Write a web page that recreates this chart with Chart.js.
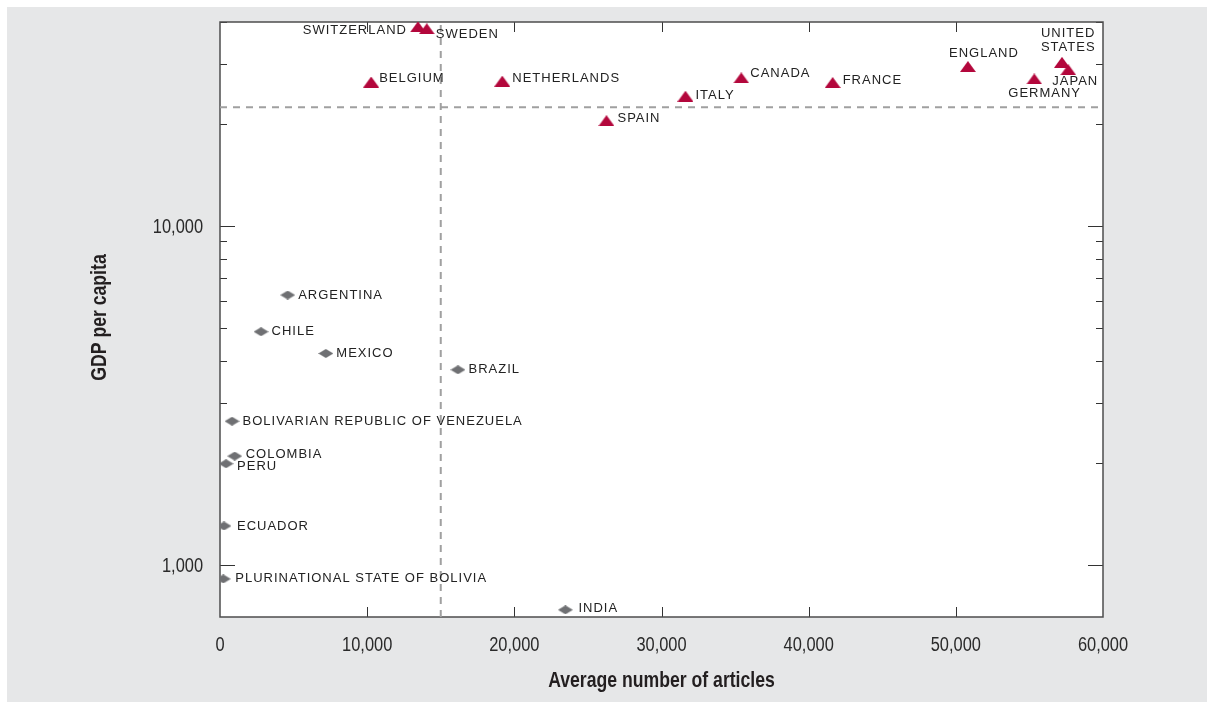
<!DOCTYPE html>
<html>
<head>
<meta charset="utf-8">
<script src="https://cdn.jsdelivr.net/npm/chart.js@4.4.0/dist/chart.umd.min.js"></script>
<style>
  html, body { margin: 0; padding: 0; background: #fff; }
  #panel { position: absolute; left: 7px; top: 7px; width: 1200px; height: 695px; background: #e6e7e8; }
  canvas { display: block; }
</style>
</head>
<body>
<div id="panel"><canvas id="myChart" width="1200" height="695"></canvas></div>
<script>
// high income group (triangles)
const highNames = ['SWITZERLAND', 'SWEDEN', 'BELGIUM', 'NETHERLANDS', 'SPAIN', 'ITALY', 'CANADA', 'FRANCE', 'ENGLAND', 'GERMANY', 'UNITED STATES', 'JAPAN'];
const highArticles = [13450, 14050, 10270, 19180, 26260, 31630, 35420, 41630, 50820, 55330, 57210, 57640];
const highGdp = [38700, 38200, 26600, 26750, 20450, 24150, 27350, 26500, 29550, 27150, 30400, 28900];

// latin america + india (diamonds)
const lowNames = ['ARGENTINA', 'CHILE', 'MEXICO', 'BRAZIL', 'BOLIVARIAN REPUBLIC OF VENEZUELA', 'COLOMBIA', 'PERU', 'ECUADOR', 'PLURINATIONAL STATE OF BOLIVIA', 'INDIA'];
const lowArticles = [4600, 2790, 7190, 16170, 816, 1000, 410, 270, 225, 23470];
const lowGdp = [6250, 4870, 4200, 3760, 2650, 2090, 1985, 1300, 907, 735];

const xTicks = [0, 10000, 20000, 30000, 40000, 50000, 60000];
const yTicks = [1000, 10000];
const yMarks = [1000, 2000, 3000, 4000, 5000, 6000, 7000, 8000, 9000, 10000, 20000, 30000, 40000];
const articleCut = 15000;
const gdpCut = 22400;
const xTitle = 'Average number of articles';
const yTitle = 'GDP per capita';

// where each label sits relative to its marker
const place = {
  'SWITZERLAND': {dx: -11, dy: 4, align: 'right'},
  'SWEDEN': {dx: 9, dy: 6},
  'BELGIUM': {dx: 8, dy: -4},
  'NETHERLANDS': {dx: 10, dy: -3},
  'SPAIN': {dx: 11, dy: -2},
  'ITALY': {dx: 10, dy: -1},
  'CANADA': {dx: 9, dy: -4},
  'FRANCE': {dx: 10, dy: -2},
  'ENGLAND': {dx: 16, dy: -13, align: 'center'},
  'GERMANY': {dx: -26, dy: 14},
  'UNITED STATES': {dx: -21, dy: -29, lines: ['UNITED', 'STATES']},
  'JAPAN': {dx: -16, dy: 12},
  'COLOMBIA': {dx: 11, dy: -2},
  'PERU': {dx: 11, dy: 3},
  'ECUADOR': {dx: 13, dy: 0},
  'PLURINATIONAL STATE OF BOLIVIA': {dx: 12, dy: 0},
  'INDIA': {dx: 13, dy: -1}
};

function makeTriangle() {
  const c = document.createElement('canvas');
  c.width = 16; c.height = 11;
  const g = c.getContext('2d');
  g.fillStyle = '#b3073c';
  g.beginPath(); g.moveTo(0, 11); g.lineTo(8, 0); g.lineTo(16, 11); g.closePath(); g.fill();
  return c;
}
function makeDiamond() {
  const c = document.createElement('canvas');
  c.width = 15; c.height = 9;
  const g = c.getContext('2d');
  g.fillStyle = '#6f7073';
  g.beginPath(); g.moveTo(0, 4.5); g.lineTo(7.5, 0); g.lineTo(15, 4.5); g.lineTo(7.5, 9); g.closePath(); g.fill();
  return c;
}

// condensed look: Liberation Sans squeezed horizontally
function narrowText(ctx, text, x, y, font, align, rot) {
  ctx.save();
  ctx.translate(x, y);
  if (rot) ctx.rotate(rot);
  ctx.scale(0.82, 1);
  ctx.font = font;
  ctx.textAlign = align;
  ctx.textBaseline = 'alphabetic';
  ctx.fillText(text, 0, 0);
  ctx.restore();
}

const frame = {
  id: 'frame',
  beforeDraw(chart) {
    const a = chart.chartArea, ctx = chart.ctx;
    ctx.save();
    ctx.fillStyle = '#fff';
    ctx.fillRect(a.left, a.top, a.right - a.left, a.bottom - a.top);
    ctx.restore();
  },
  beforeDatasetsDraw(chart) {
    const a = chart.chartArea, ctx = chart.ctx;
    const xs = chart.scales.x, ys = chart.scales.y;
    ctx.save();
    ctx.strokeStyle = '#333';
    ctx.lineWidth = 1;
    ctx.beginPath();
    yMarks.forEach(v => {
      const py = Math.round(ys.getPixelForValue(v)) + 0.5;
      const len = yTicks.includes(v) ? 15 : 7;
      ctx.moveTo(a.left, py); ctx.lineTo(a.left + len, py);
      ctx.moveTo(a.right, py); ctx.lineTo(a.right - len, py);
    });
    xTicks.slice(1, -1).forEach(v => {
      const px = Math.round(xs.getPixelForValue(v)) + 0.5;
      ctx.moveTo(px, a.bottom); ctx.lineTo(px, a.bottom - 10);
      ctx.moveTo(px, a.top); ctx.lineTo(px, a.top + 10);
    });
    ctx.stroke();
    ctx.strokeStyle = '#4d4d4d';
    ctx.lineWidth = 1.5;
    ctx.strokeRect(a.left, a.top, a.right - a.left, a.bottom - a.top);

    // axis text
    const tickFont = "20px 'Liberation Sans', Arial, sans-serif";
    const titleFont = "bold 21.5px 'Liberation Sans', Arial, sans-serif";
    ctx.fillStyle = '#2a2a2a';
    xTicks.forEach(v => {
      narrowText(ctx, v.toLocaleString('en-US'), xs.getPixelForValue(v), a.bottom + 34, tickFont, 'center');
    });
    yTicks.forEach(v => {
      narrowText(ctx, v.toLocaleString('en-US'), a.left - 17, ys.getPixelForValue(v) + 7, tickFont, 'right');
    });
    ctx.fillStyle = '#231f20';
    narrowText(ctx, xTitle, (a.left + a.right) / 2, 680, titleFont, 'center');
    narrowText(ctx, yTitle, 99, (a.top + a.bottom) / 2 - 2, titleFont, 'center', -Math.PI / 2);
    ctx.restore();
  },
  afterDatasetsDraw(chart) {
    const ctx = chart.ctx;
    ctx.save();
    ctx.font = "13px 'Liberation Sans', Arial, sans-serif";
    ctx.letterSpacing = '1px';
    ctx.fillStyle = '#222';
    ctx.textBaseline = 'middle';
    [[0, highNames], [1, lowNames]].forEach(([di, names]) => {
      const meta = chart.getDatasetMeta(di);
      names.forEach((name, i) => {
        const pt = meta.data[i];
        const p = place[name] || {dx: 10.5, dy: 0};
        ctx.textAlign = p.align || 'left';
        const lines = p.lines || [name];
        lines.forEach((t, k) => ctx.fillText(t, pt.x + p.dx, pt.y + (p.dy || 0) + k * 14.5));
      });
    });
    ctx.restore();
  }
};

const ctx = document.getElementById('myChart').getContext('2d');
const myChart = new Chart(ctx, {
  type: 'scatter',
  data: {
    datasets: [
      {
        label: 'High income',
        data: highArticles.map((x, i) => ({x: x, y: highGdp[i]})),
        pointStyle: makeTriangle(),
        order: 1
      },
      {
        label: 'Other',
        data: lowArticles.map((x, i) => ({x: x, y: lowGdp[i]})),
        pointStyle: makeDiamond(),
        order: 1
      },
      {
        type: 'line',
        label: 'articles cut',
        data: [{x: articleCut, y: 700}, {x: articleCut, y: 40000}],
        borderColor: '#a0a0a0', borderWidth: 2, borderDash: [7, 6],
        pointRadius: 0, order: 2
      },
      {
        type: 'line',
        label: 'gdp cut',
        data: [{x: 0, y: gdpCut}, {x: 60000, y: gdpCut}],
        borderColor: '#a0a0a0', borderWidth: 2, borderDash: [7, 6],
        pointRadius: 0, order: 2
      }
    ]
  },
  options: {
    responsive: false,
    animation: false,
    layout: { padding: { left: 0, right: 104, top: 15, bottom: 0 } },
    plugins: {
      legend: { display: false },
      tooltip: { enabled: false }
    },
    scales: {
      x: {
        type: 'linear',
        min: 0, max: 60000,
        afterBuildTicks: s => { s.ticks = xTicks.map(v => ({value: v})); },
        afterFit: s => { s.height = 85; },
        grid: { display: false, drawTicks: false },
        border: { display: false },
        ticks: { display: false },
        title: { display: false, text: xTitle }
      },
      y: {
        type: 'logarithmic',
        min: 700, max: 40000,
        afterBuildTicks: s => { s.ticks = yTicks.map(v => ({value: v})); },
        afterFit: s => { s.width = 213; },
        grid: { display: false, drawTicks: false },
        border: { display: false },
        ticks: { display: false },
        title: { display: false, text: yTitle }
      }
    }
  },
  plugins: [frame]
});
</script>
</body>
</html>
